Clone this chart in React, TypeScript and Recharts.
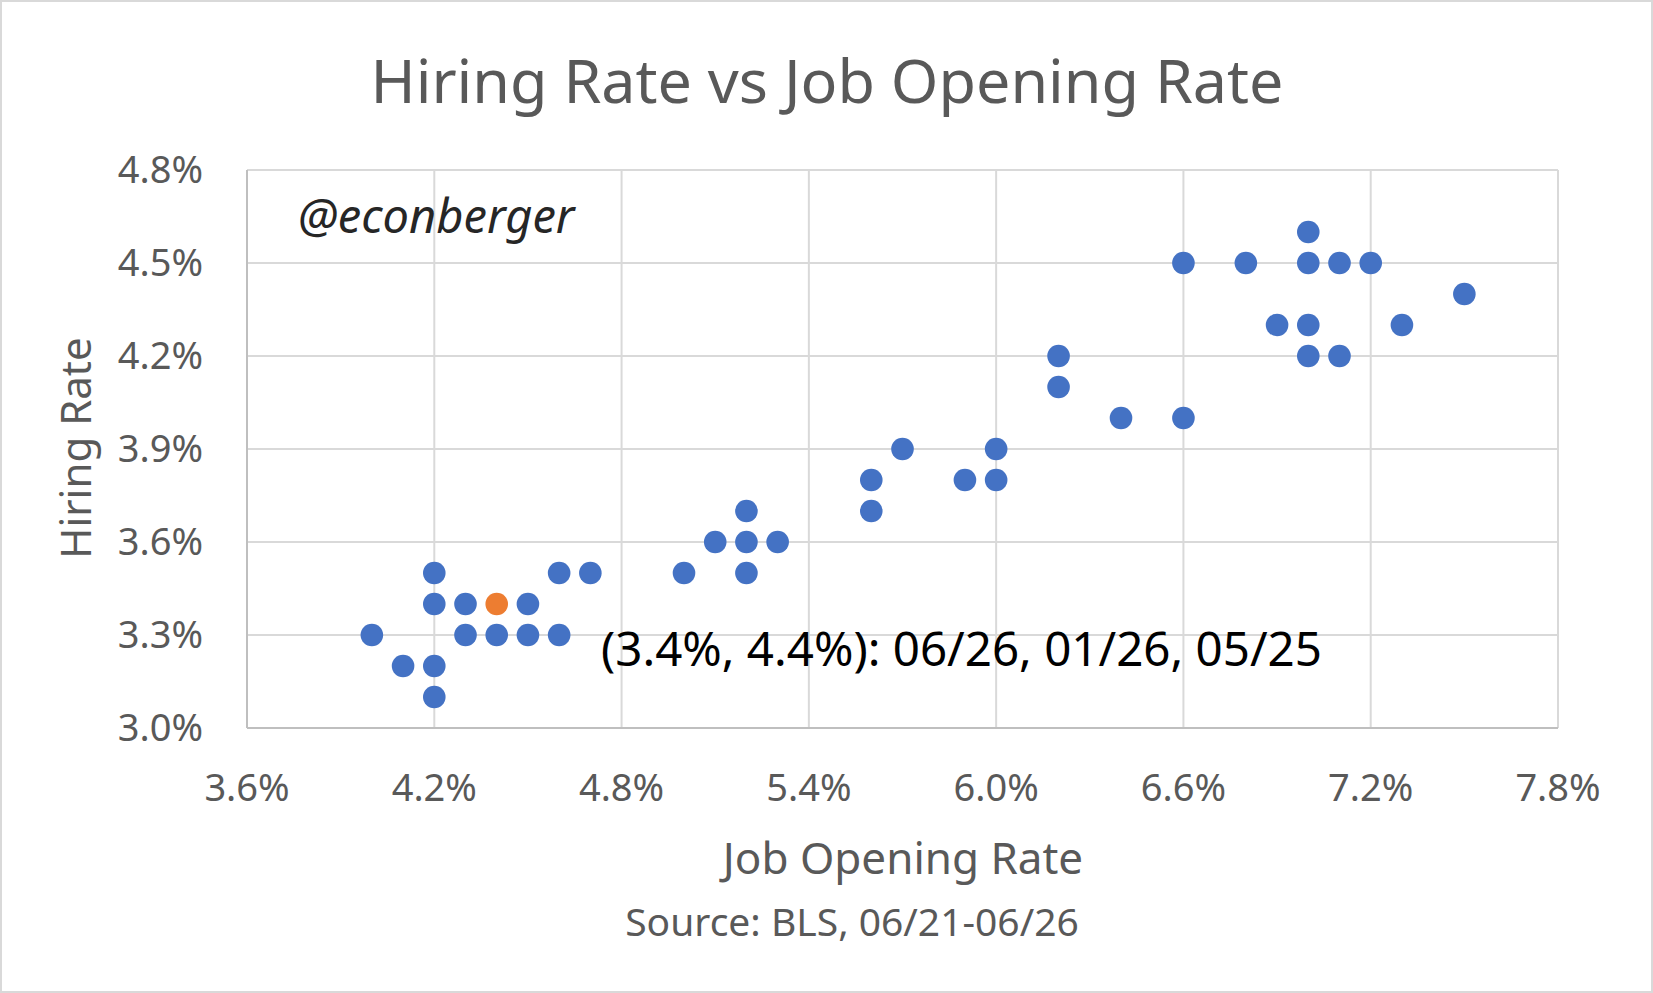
import React from "react";
import { ScatterChart, Scatter, XAxis, YAxis, CartesianGrid } from "recharts";

// job opening rate (x) and hiring rate (y), in percent
const openingRate = [
  4.0, 4.1, 4.2, 4.2, 4.2, 4.2, 4.3, 4.5, 4.3, 4.4, 4.5, 4.6, 4.6, 4.7, 5.0, 5.1, 5.2, 5.2, 5.2, 5.3,
  5.6, 5.6, 5.7, 5.9, 6.0, 6.0, 6.2, 6.2, 6.4, 6.6, 6.6, 6.8, 7.0, 7.0, 7.1, 7.2, 6.9, 7.0, 7.3, 7.5,
  7.0, 7.1,
];
const hiringRate = [
  3.3, 3.2, 3.2, 3.1, 3.5, 3.4, 3.4, 3.4, 3.3, 3.3, 3.3, 3.3, 3.5, 3.5, 3.5, 3.6, 3.7, 3.6, 3.5, 3.6,
  3.8, 3.7, 3.9, 3.8, 3.9, 3.8, 4.2, 4.1, 4.0, 4.0, 4.5, 4.5, 4.6, 4.5, 4.5, 4.5, 4.3, 4.3, 4.3, 4.4,
  4.2, 4.2,
];
const latestOpening = [4.4];
const latestHiring = [3.4];

const xTicks = [3.6, 4.2, 4.8, 5.4, 6.0, 6.6, 7.2, 7.8];
const yTicks = [3.0, 3.3, 3.6, 3.9, 4.2, 4.5, 4.8];

const history = openingRate.map((x, i) => ({ x, y: hiringRate[i] }));
const latest = latestOpening.map((x, i) => ({ x, y: latestHiring[i] }));

const W = 1653;
const H = 993;
const FONT = "'Noto Sans', 'Open Sans', sans-serif";
const GREY = "#595959";

const pct = (v: number) => `${v.toFixed(1)}%`;

const dot = (fill: string) => (props: any) => <circle cx={props.cx} cy={props.cy} r={11.3} fill={fill} />;

export default function App() {
  return (
    <div style={{ position: "relative", width: W, height: H, background: "#fff", fontFamily: FONT }}>
      <style>{`body{margin:0}`}</style>
      <ScatterChart width={W} height={H} margin={{ top: 170, right: 95, bottom: 205, left: 97 }}>
        <CartesianGrid stroke="#d9d9d9" strokeWidth={2} />
        <XAxis
          type="number"
          dataKey="x"
          domain={[3.6, 7.8]}
          ticks={xTicks}
          tickFormatter={pct}
          height={60}
          tickSize={0}
          tickMargin={46}
          axisLine={{ stroke: "#bfbfbf", strokeWidth: 2 }}
          tickLine={false}
          tick={{ fontSize: 38, fill: GREY, fontFamily: FONT }}
        />
        <YAxis
          type="number"
          dataKey="y"
          domain={[3.0, 4.8]}
          ticks={yTicks}
          tickFormatter={pct}
          width={150}
          tickSize={0}
          tickMargin={44}
          axisLine={{ stroke: "#bfbfbf", strokeWidth: 2 }}
          tickLine={false}
          tick={{ fontSize: 38, fill: GREY, fontFamily: FONT }}
        />
        <Scatter data={history} shape={dot("#4472C4")} isAnimationActive={false} />
        <Scatter data={latest} shape={dot("#ED7D31")} isAnimationActive={false} />
      </ScatterChart>
      <svg width={W} height={H} style={{ position: "absolute", left: 0, top: 0, pointerEvents: "none" }}>
        <text x={827} y={103} textAnchor="middle" fontSize={61} fill={GREY} fontFamily={FONT}>
          Hiring Rate vs Job Opening Rate
        </text>
        <text x={298} y={233} fontSize={47} fontStyle="italic" fill="#262626" fontFamily={FONT}>
          @econberger
        </text>
        <text x={601} y={666} fontSize={47.5} fill="#000" fontFamily={FONT}>
          (3.4%, 4.4%): 06/26, 01/26, 05/25
        </text>
        <text
          x={91}
          y={448}
          textAnchor="middle"
          fontSize={42}
          fill={GREY}
          fontFamily={FONT}
          transform="rotate(-90 91 448)"
        >
          Hiring Rate
        </text>
        <text x={903} y={874} textAnchor="middle" fontSize={44} fill={GREY} fontFamily={FONT}>
          Job Opening Rate
        </text>
        <text x={852} y={936} textAnchor="middle" fontSize={39} fill={GREY} fontFamily={FONT}>
          Source: BLS, 06/21-06/26
        </text>
        <rect x={1} y={1} width={W - 2} height={H - 2} fill="none" stroke="#d9d9d9" strokeWidth={2} />
      </svg>
    </div>
  );
}
